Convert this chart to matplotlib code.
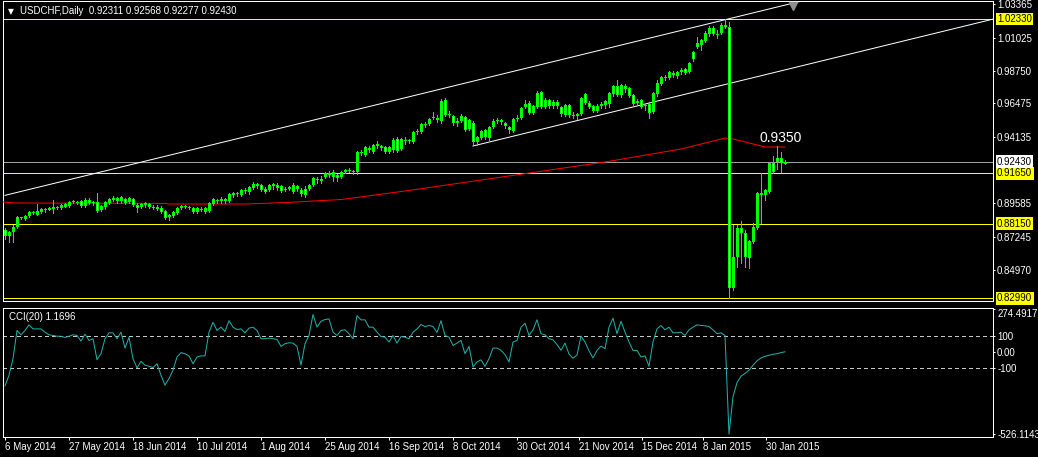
import numpy as np
import matplotlib.pyplot as plt

plt.rcParams['font.family'] = ['Liberation Sans', 'DejaVu Sans']

W, H, DPI = 1038, 457, 100
PT = 72 / DPI  # one screen pixel in points

# ---------------- data ----------------
opens = [
    0.8771, 0.8729, 0.8757, 0.8792, 0.8861, 0.8847, 0.8868, 0.8896, 0.8875, 0.8896,
    0.8916, 0.8909, 0.8916, 0.8930, 0.8923, 0.8930, 0.8937, 0.8965, 0.8965, 0.8972,
    0.8937, 0.8979, 0.8958, 0.8965, 0.8909, 0.8930, 0.8958, 0.8979, 0.8993, 0.8972,
    0.8986, 0.8965, 0.8986, 0.8944, 0.8930, 0.8944, 0.8951, 0.8930, 0.8930, 0.8923,
    0.8902, 0.8861, 0.8868, 0.8889, 0.8923, 0.8937, 0.8930, 0.8923, 0.8896, 0.8916,
    0.8896, 0.8902, 0.8951, 0.8979, 0.8972, 0.8986, 0.8972, 0.9013, 0.9027, 0.9013,
    0.9048, 0.9034, 0.9062, 0.9090, 0.9083, 0.9055, 0.9048, 0.9076, 0.9083, 0.9076,
    0.9048, 0.9055, 0.9034, 0.9076, 0.9048, 0.9055, 0.9055, 0.9083, 0.9117, 0.9124,
    0.9138, 0.9166, 0.9138, 0.9152, 0.9138, 0.9173, 0.9187, 0.9180, 0.9173, 0.9312,
    0.9291, 0.9339, 0.9312, 0.9353, 0.9353, 0.9346, 0.9312, 0.9325, 0.9402, 0.9332,
    0.9395, 0.9388, 0.9381, 0.9450, 0.9450, 0.9499, 0.9505, 0.9547, 0.9547, 0.9526,
    0.9672, 0.9568, 0.9561, 0.9512, 0.9526, 0.9554, 0.9471, 0.9512, 0.9381, 0.9408,
    0.9464, 0.9408, 0.9485, 0.9526, 0.9533, 0.9512, 0.9485, 0.9457, 0.9540, 0.9547,
    0.9623, 0.9651, 0.9582, 0.9623, 0.9727, 0.9623, 0.9672, 0.9630, 0.9658, 0.9623,
    0.9568, 0.9637, 0.9568, 0.9561, 0.9575, 0.9714, 0.9651, 0.9630, 0.9596, 0.9630,
    0.9637, 0.9644, 0.9714, 0.9769, 0.9707, 0.9769, 0.9755, 0.9707, 0.9651, 0.9672,
    0.9630, 0.9644, 0.9589, 0.9714, 0.9783, 0.9824, 0.9824, 0.9859, 0.9838, 0.9866,
    0.9887, 0.9866, 1.0004, 1.0039, 1.0053, 1.0081, 1.0129, 1.0171, 1.0129, 1.0136,
    1.0192, 1.0178, 0.8369, 0.8584, 0.8785, 0.8750, 0.8577, 0.8688, 0.8785, 0.9027,
    0.9013, 0.9034, 0.9235, 0.9242, 0.9270, 0.92311,
]
highs = [
    0.8785, 0.8764, 0.8806, 0.8868, 0.8864, 0.8875, 0.8902, 0.8902, 0.8951, 0.8923,
    0.8923, 0.8930, 0.8979, 0.8937, 0.8951, 0.8958, 0.8972, 0.8979, 0.8972, 0.8979,
    0.8993, 0.8993, 0.8972, 0.9027, 0.8944, 0.8972, 0.8993, 0.9006, 0.8999, 0.9006,
    0.8993, 0.8999, 0.8993, 0.8958, 0.8958, 0.8965, 0.8958, 0.8944, 0.8944, 0.8937,
    0.8909, 0.8882, 0.8902, 0.8930, 0.8944, 0.8944, 0.8937, 0.8930, 0.8930, 0.8930,
    0.8930, 0.8965, 0.8993, 0.8986, 0.8999, 0.8993, 0.9027, 0.9034, 0.9034, 0.9055,
    0.9062, 0.9076, 0.9103, 0.9096, 0.9090, 0.9069, 0.9090, 0.9096, 0.9096, 0.9083,
    0.9069, 0.9076, 0.9096, 0.9083, 0.9062, 0.9076, 0.9090, 0.9138, 0.9138, 0.9145,
    0.9173, 0.9180, 0.9187, 0.9159, 0.9180, 0.9194, 0.9201, 0.9187, 0.9318, 0.9325,
    0.9353, 0.9353, 0.9367, 0.9388, 0.9360, 0.9353, 0.9353, 0.9408, 0.9415, 0.9408,
    0.9415, 0.9402, 0.9457, 0.9471, 0.9512, 0.9519, 0.9547, 0.9589, 0.9568, 0.9679,
    0.9686, 0.9596, 0.9568, 0.9547, 0.9575, 0.9561, 0.9540, 0.9526, 0.9422, 0.9464,
    0.9471, 0.9492, 0.9540, 0.9547, 0.9540, 0.9519, 0.9492, 0.9547, 0.9568, 0.9623,
    0.9672, 0.9665, 0.9637, 0.9734, 0.9734, 0.9686, 0.9679, 0.9672, 0.9672, 0.9630,
    0.9644, 0.9644, 0.9589, 0.9582, 0.9693, 0.9720, 0.9665, 0.9637, 0.9644, 0.9658,
    0.9672, 0.9727, 0.9776, 0.9810, 0.9783, 0.9783, 0.9762, 0.9714, 0.9679, 0.9679,
    0.9651, 0.9658, 0.9727, 0.9810, 0.9838, 0.9845, 0.9873, 0.9873, 0.9873, 0.9894,
    0.9894, 0.9935, 1.0011, 1.0108, 1.0094, 1.0150, 1.0185, 1.0185, 1.0157, 1.0205,
    1.0233, 1.0212, 0.8806, 0.8806, 0.8833, 0.8771, 0.8702, 0.8819, 0.9034, 0.9166,
    0.9055, 0.9242, 0.9284, 0.9350, 0.9312, 0.92568,
]
lows = [
    0.8708, 0.8688, 0.8688, 0.8785, 0.8847, 0.8840, 0.8861, 0.8882, 0.8872, 0.8889,
    0.8896, 0.8906, 0.8889, 0.8916, 0.8916, 0.8927, 0.8930, 0.8958, 0.8951, 0.8930,
    0.8930, 0.8951, 0.8944, 0.8896, 0.8902, 0.8916, 0.8951, 0.8972, 0.8958, 0.8958,
    0.8951, 0.8958, 0.8937, 0.8896, 0.8923, 0.8930, 0.8923, 0.8916, 0.8909, 0.8889,
    0.8847, 0.8840, 0.8861, 0.8882, 0.8916, 0.8923, 0.8916, 0.8889, 0.8889, 0.8902,
    0.8889, 0.8896, 0.8944, 0.8958, 0.8958, 0.8958, 0.8965, 0.8999, 0.9006, 0.9006,
    0.9027, 0.9020, 0.9055, 0.9062, 0.9041, 0.9027, 0.9041, 0.9055, 0.9048, 0.9034,
    0.9041, 0.9048, 0.9027, 0.9041, 0.9006, 0.8999, 0.9048, 0.9076, 0.9096, 0.9096,
    0.9131, 0.9138, 0.9110, 0.9110, 0.9131, 0.9166, 0.9173, 0.9159, 0.9159, 0.9291,
    0.9284, 0.9312, 0.9305, 0.9339, 0.9325, 0.9305, 0.9305, 0.9312, 0.9312, 0.9325,
    0.9367, 0.9374, 0.9374, 0.9436, 0.9443, 0.9485, 0.9499, 0.9540, 0.9519, 0.9512,
    0.9561, 0.9554, 0.9499, 0.9492, 0.9519, 0.9457, 0.9464, 0.9367, 0.9360, 0.9402,
    0.9402, 0.9395, 0.9478, 0.9512, 0.9505, 0.9478, 0.9443, 0.9450, 0.9526, 0.9540,
    0.9616, 0.9575, 0.9575, 0.9616, 0.9616, 0.9616, 0.9616, 0.9616, 0.9616, 0.9561,
    0.9561, 0.9554, 0.9547, 0.9540, 0.9568, 0.9644, 0.9616, 0.9589, 0.9589, 0.9616,
    0.9616, 0.9623, 0.9700, 0.9700, 0.9693, 0.9727, 0.9693, 0.9630, 0.9637, 0.9616,
    0.9603, 0.9547, 0.9582, 0.9700, 0.9776, 0.9810, 0.9817, 0.9831, 0.9824, 0.9852,
    0.9852, 0.9859, 0.9942, 1.0032, 1.0018, 1.0074, 1.0115, 1.0122, 1.0101, 1.0129,
    1.0171, 0.8299, 0.8355, 0.8515, 0.8542, 0.8515, 0.8508, 0.8681, 0.8778, 0.8819,
    0.8979, 0.9027, 0.9166, 0.9194, 0.9173, 0.92277,
]
closes = [
    0.8729, 0.8757, 0.8792, 0.8861, 0.8854, 0.8868, 0.8896, 0.8889, 0.8902, 0.8916,
    0.8912, 0.8923, 0.8930, 0.8923, 0.8944, 0.8951, 0.8965, 0.8972, 0.8958, 0.8937,
    0.8979, 0.8958, 0.8965, 0.8902, 0.8937, 0.8965, 0.8986, 0.8993, 0.8972, 0.8999,
    0.8958, 0.8993, 0.8944, 0.8923, 0.8951, 0.8958, 0.8930, 0.8923, 0.8916, 0.8896,
    0.8854, 0.8875, 0.8896, 0.8923, 0.8937, 0.8930, 0.8923, 0.8896, 0.8923, 0.8909,
    0.8923, 0.8958, 0.8986, 0.8972, 0.8986, 0.8972, 0.9020, 0.9027, 0.9020, 0.9048,
    0.9041, 0.9069, 0.9090, 0.9076, 0.9048, 0.9034, 0.9083, 0.9090, 0.9062, 0.9041,
    0.9055, 0.9069, 0.9083, 0.9055, 0.9020, 0.9013, 0.9083, 0.9131, 0.9124, 0.9110,
    0.9166, 0.9152, 0.9173, 0.9131, 0.9173, 0.9187, 0.9180, 0.9173, 0.9312, 0.9305,
    0.9346, 0.9325, 0.9360, 0.9367, 0.9339, 0.9312, 0.9346, 0.9395, 0.9318, 0.9402,
    0.9388, 0.9385, 0.9450, 0.9457, 0.9505, 0.9505, 0.9540, 0.9554, 0.9533, 0.9665,
    0.9568, 0.9575, 0.9512, 0.9526, 0.9561, 0.9464, 0.9533, 0.9381, 0.9415, 0.9457,
    0.9415, 0.9485, 0.9526, 0.9533, 0.9519, 0.9492, 0.9464, 0.9540, 0.9547, 0.9616,
    0.9644, 0.9582, 0.9630, 0.9720, 0.9623, 0.9672, 0.9630, 0.9658, 0.9630, 0.9575,
    0.9637, 0.9568, 0.9561, 0.9575, 0.9686, 0.9651, 0.9623, 0.9596, 0.9630, 0.9644,
    0.9665, 0.9720, 0.9769, 0.9707, 0.9776, 0.9748, 0.9700, 0.9644, 0.9665, 0.9623,
    0.9637, 0.9582, 0.9720, 0.9790, 0.9831, 0.9821, 0.9866, 0.9845, 0.9866, 0.9880,
    0.9859, 0.9928, 0.9956, 1.0067, 1.0087, 1.0136, 1.0171, 1.0129, 1.0122, 1.0192,
    1.0178, 0.8369, 0.8584, 0.8785, 0.8750, 0.8584, 0.8695, 0.8792, 0.9027, 0.9013,
    0.9048, 0.9235, 0.9173, 0.9270, 0.9235, 0.92430,
]

cci = [
    -217, -149, -43, 138, 110, 138, 174, 148, 148, 148,
    127, 110, 106, 101, 101, 93, 101, 110, 106, 70,
    114, 74, 85, -49, -11, 85, 123, 123, 85, 127,
    25, 95, -43, -102, -60, -85, -91, -100, -75, -149,
    -213, -170, -117, -32, -4, -11, -25, -75, -32, -25,
    -25, 127, 191, 138, 159, 132, 201, 159, 144, 148,
    123, 153, 159, 138, 85, 85, 89, 85, 81, 36,
    53, 59, 57, 36, -85, 53, 106, 240, 159, 197,
    208, 212, 127, 106, 138, 142, 117, 85, 233, 206,
    206, 159, 159, 127, 99, 95, 64, 106, 57, 99,
    95, 85, 127, 148, 176, 163, 170, 163, 125, 201,
    106, 95, 42, 57, 74, -11, 36, -96, -64, -50,
    -92, -43, 25, 25, 11, -17, -64, 64, 74, 159,
    185, 106, 142, 206, 117, 110, 85, 78, 48, 11,
    57, -13, -40, -19, 102, 64, 7, -38, 10, 38,
    21, 159, 217, 117, 197, 127, 64, 10, 10, -32,
    -25, -92, 64, 148, 170, 142, 159, 123, 123, 127,
    106, 142, 159, 174, 170, 168, 163, 142, 117, 123,
    106, -526.1143, -287, -197, -155, -138, -117, -85, -57, -38,
    -28, -21, -15, -11, -4, 1.1696,
]

# moving average (red), sampled at these bars
ma_bars = [-0.5, 3, 40, 41, 60, 70, 84, 100, 119, 150, 169, 180, 182, 188, 190, 195]
ma_vals = [0.8965, 0.8958, 0.8955, 0.8951, 0.8951, 0.8961, 0.8982, 0.9041, 0.9117,
           0.9242, 0.9332, 0.9408, 0.9402, 0.9360, 0.9346, 0.9346]

# channel trend lines: (bar, price) anchors
upper_bars, upper_prices = [0, 247], [0.9011, 1.0681]
lower_bars, lower_prices = [117, 247], [0.9353, 1.0232]

yellow_levels = [1.02330, 0.91650, 0.88150, 0.82990]
price_ticks = [1.03365, 1.01025, 0.98750, 0.96475, 0.94135, 0.89585, 0.87245, 0.84970]
hidden_tick = 0.82695
cci_levels = [100, -100]
cci_ticks = [274.4917, 100, 0, -100, -526.1143]
cci_tick_labels = ['274.4917', '100', '0.00', '-100', '-526.1143']
date_ticks = [0, 16, 32, 48, 64, 80, 96, 112, 128, 143.5, 159.2, 174.6, 190.2]
date_labels = ['6 May 2014', '27 May 2014', '18 Jun 2014', '10 Jul 2014', '1 Aug 2014',
               '25 Aug 2014', '16 Sep 2014', '8 Oct 2014', '30 Oct 2014', '21 Nov 2014',
               '15 Dec 2014', '8 Jan 2015', '30 Jan 2015']

# ---------------- figure ----------------
LIME = '#00FF00'
PRICE_LIM = (0.82788, 1.03578)

fig = plt.figure(figsize=(W / DPI, H / DPI), dpi=DPI, facecolor='black')


def px_box(x0, y0, x1, y1):
    # pixel rectangle (from top-left) -> figure fraction
    return [x0 / W, 1 - y1 / H, (x1 - x0) / W, (y1 - y0) / H]


ax = fig.add_axes(px_box(3, 1, 993, 301))
ax2 = fig.add_axes(px_box(3, 308, 993, 437), sharex=ax)

for a in (ax, ax2):
    a.set_facecolor('black')
    for s in a.spines.values():
        s.set_color('white')
        s.set_linewidth(PT)
    a.yaxis.tick_right()
    a.tick_params(axis='y', colors='white', length=2 * PT, width=PT, pad=1.5, labelsize=7)

ax.tick_params(axis='x', bottom=False, labelbottom=False)
ax.set_xlim(-0.5, 247)
ax.set_ylim(*PRICE_LIM)

# candles: lime wick, 3px lime body, bearish bodies get a 1px white core
bars = np.arange(len(closes))
o, h, l, c = (np.asarray(v, dtype=float) for v in (opens, highs, lows, closes))
ypx = (PRICE_LIM[1] - PRICE_LIM[0]) / 300
bot = np.minimum(o, c)
size = np.maximum(np.abs(c - o), ypx)
bear = (c < o) & (size > 2.5 * ypx)

ax.vlines(bars, l, h, colors=LIME, lw=PT, antialiased=False, zorder=4)
ax.bar(bars, size, width=0.75, bottom=bot, color=LIME, lw=0, antialiased=False, zorder=4)
ax.bar(bars[bear], size[bear] - 2 * ypx, width=0.25, bottom=bot[bear] + ypx, color='white',
       lw=0, antialiased=False, zorder=5)

# levels, MA, trend lines
for lv in yellow_levels:
    ax.axhline(lv, color='#FFFF00', lw=PT, antialiased=False, zorder=2)
ax.axhline(closes[-1], color='#A0A0A0', lw=PT, antialiased=False, zorder=2)
ax.plot(ma_bars, ma_vals, color='#FF0000', lw=PT, zorder=3)
ax.plot(upper_bars, upper_prices, color='white', lw=PT, zorder=3)
ax.plot(lower_bars, lower_prices, color='white', lw=PT, zorder=3)

peak = int(np.argmax(h[182:])) + 182
ax.annotate(f'{h[peak]:.4f}', xy=(peak, h[peak]), xytext=(3, 3), textcoords='offset points',
            ha='center', va='baseline', fontsize=10, color='white', zorder=6)

# right price scale
ax.set_yticks(price_ticks, labels=[f'{v:.5f}' for v in price_ticks])


def tag(a, y, text, bg, fg='black', z=10):
    a.annotate(text, xy=(1, y), xycoords=a.get_yaxis_transform(), xytext=(4 * PT, 0),
               textcoords='offset points', ha='left', va='center', fontsize=7, color=fg,
               bbox=dict(boxstyle='square,pad=0.15', fc=bg, ec='none') if bg else None,
               annotation_clip=False, zorder=z)


tag(ax, hidden_tick, f'{hidden_tick:.5f}', None, fg='white', z=8)
for lv in yellow_levels:
    tag(ax, lv, f'{lv:.5f}', '#FFFF00')
tag(ax, closes[-1], f'{closes[-1]:.5f}', 'white')

# chart-shift marker
ax.plot([0.7975], [0.985], marker='v', ms=6, color='#909090', transform=ax.transAxes,
        clip_on=False, zorder=7)

# headers
fig.text(11 / W, 1 - 11.5 / H, '\u25BC', fontsize=5.5, ha='center', va='center',
         color='white', family='DejaVu Sans')
fig.text(20 / W, 1 - 11 / H,
         f'USDCHF,Daily  {opens[-1]:.5f} {highs[-1]:.5f} {lows[-1]:.5f} {closes[-1]:.5f}',
         fontsize=7, va='center', color='white')

# CCI panel
ax2.set_ylim(-545, 282)
ax2.plot(bars, cci, color='#20B2AA', lw=PT, zorder=3)
for lv in cci_levels:
    ax2.axhline(lv, color='#C8C8C8', lw=PT, ls=(0, (4, 3)), antialiased=False, zorder=2)
ax2.set_yticks(cci_ticks, labels=cci_tick_labels)
ax2.get_yticklabels()[0].set_va('top')
fig.text(9 / W, 1 - 317 / H, f'CCI(20) {cci[-1]:.4f}', fontsize=7, va='center', color='white')

ax2.set_xticks(date_ticks, labels=date_labels)
ax2.tick_params(axis='x', colors='white', length=3 * PT, width=PT, pad=1.5, labelsize=7)
for t in ax2.get_xticklabels():
    t.set_ha('left')

fig.savefig('out.png', dpi=DPI, facecolor='black')
